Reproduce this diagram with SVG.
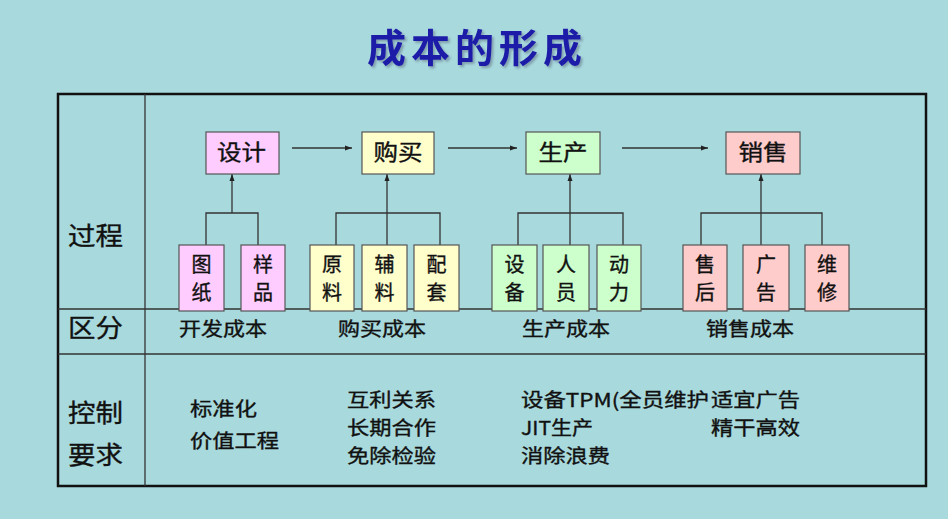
<svg xmlns="http://www.w3.org/2000/svg" width="948" height="519" viewBox="0 0 948 519">
<defs>
<style>
text{font-family:"Noto Sans CJK SC","Liberation Sans",sans-serif;fill:#111;stroke:#111;stroke-width:0.35;}
.title{font-size:39px;font-weight:bold;fill:#1c1ca8;stroke:none;letter-spacing:5px;}
.lbl{font-size:25px;}
.top{font-size:22px;}
.sm{font-size:20px;}
.row{font-size:19px;}
.ctl{font-size:19px;}
.box{stroke:#555;stroke-width:1.2;}
.pink{fill:#ffccff;}
.yel{fill:#ffffcc;}
.grn{fill:#ccffcc;}
.red{fill:#ffcccc;}
.ln{stroke:#333;stroke-width:1.3;fill:none;}
</style>
<filter id="sh" x="-10%" y="-20%" width="120%" height="150%">
<feDropShadow dx="2" dy="2" stdDeviation="1" flood-color="#335" flood-opacity="0.35"/>
</filter>
<marker id="ah" markerWidth="8" markerHeight="8" refX="7" refY="4" orient="auto" markerUnits="userSpaceOnUse">
<path d="M0,1.5 L7,4 L0,6.5 Z" fill="#222"/>
</marker>
</defs>
<rect width="948" height="519" fill="#a8d9dc"/>
<text class="title" x="477" y="62" text-anchor="middle" filter="url(#sh)">成本的形成</text>

<g id="frame">
<rect x="58" y="94" width="868" height="392" fill="none" stroke="#111" stroke-width="2.5"/>
<line x1="145" y1="94" x2="145" y2="486" stroke="#333" stroke-width="1.3"/>
<line x1="58" y1="309" x2="926" y2="309" stroke="#333" stroke-width="1.3"/>
<line x1="58" y1="354" x2="926" y2="354" stroke="#333" stroke-width="1.3"/>
<text class="lbl" x="68" y="245" textLength="55" lengthAdjust="spacingAndGlyphs">过程</text>
<text class="lbl" x="68" y="337" textLength="55" lengthAdjust="spacingAndGlyphs">区分</text>
<text class="lbl" x="68" y="422" textLength="55" lengthAdjust="spacingAndGlyphs">控制</text>
<text class="lbl" x="68" y="464" textLength="55" lengthAdjust="spacingAndGlyphs">要求</text>
</g>

<g id="connectors">
<line class="ln" x1="292" y1="148" x2="352" y2="148" marker-end="url(#ah)"/>
<line class="ln" x1="448" y1="148" x2="517" y2="148" marker-end="url(#ah)"/>
<line class="ln" x1="622" y1="148" x2="708" y2="148" marker-end="url(#ah)"/>
<path class="ln" d="M206,245 V213 H258 V245"/>
<line class="ln" x1="232" y1="213" x2="232" y2="174" marker-end="url(#ah)"/>
<path class="ln" d="M336,245 V213 H440 V245"/>
<line class="ln" x1="387" y1="245" x2="387" y2="174" marker-end="url(#ah)"/>
<path class="ln" d="M518,245 V213 H623 V245"/>
<line class="ln" x1="570" y1="245" x2="570" y2="174" marker-end="url(#ah)"/>
<path class="ln" d="M701,245 V213 H822 V245"/>
<line class="ln" x1="761" y1="245" x2="761" y2="174" marker-end="url(#ah)"/>
</g>

<g id="n-sheji"><rect class="box pink" x="206" y="132" width="73" height="42"/><text class="top" x="217" y="160" textLength="49" lengthAdjust="spacingAndGlyphs">设计</text></g>
<g id="n-goumai"><rect class="box yel" x="362" y="132" width="72" height="42"/><text class="top" x="373.5" y="160" textLength="49" lengthAdjust="spacingAndGlyphs">购买</text></g>
<g id="n-shengchan"><rect class="box grn" x="526" y="132" width="74" height="42"/><text class="top" x="538.5" y="160" textLength="49" lengthAdjust="spacingAndGlyphs">生产</text></g>
<g id="n-xiaoshou"><rect class="box red" x="726" y="132" width="74" height="42"/><text class="top" x="738.5" y="160" textLength="49" lengthAdjust="spacingAndGlyphs">销售</text></g>

<g id="n-tuzhi"><rect class="box pink" x="179" y="245" width="45" height="66"/><text class="sm" x="201.5" y="272" text-anchor="middle">图</text><text class="sm" x="201.5" y="300" text-anchor="middle">纸</text></g>
<g id="n-yangpin"><rect class="box pink" x="241" y="245" width="44" height="66"/><text class="sm" x="263" y="272" text-anchor="middle">样</text><text class="sm" x="263" y="300" text-anchor="middle">品</text></g>
<g id="n-yuanliao"><rect class="box yel" x="310" y="245" width="44" height="66"/><text class="sm" x="332" y="272" text-anchor="middle">原</text><text class="sm" x="332" y="300" text-anchor="middle">料</text></g>
<g id="n-fuliao"><rect class="box yel" x="362" y="245" width="45" height="66"/><text class="sm" x="384.5" y="272" text-anchor="middle">辅</text><text class="sm" x="384.5" y="300" text-anchor="middle">料</text></g>
<g id="n-peitao"><rect class="box yel" x="414" y="245" width="45" height="66"/><text class="sm" x="436.5" y="272" text-anchor="middle">配</text><text class="sm" x="436.5" y="300" text-anchor="middle">套</text></g>
<g id="n-shebei"><rect class="box grn" x="492" y="245" width="45" height="66"/><text class="sm" x="514.5" y="272" text-anchor="middle">设</text><text class="sm" x="514.5" y="300" text-anchor="middle">备</text></g>
<g id="n-renyuan"><rect class="box grn" x="543" y="245" width="46" height="66"/><text class="sm" x="566" y="272" text-anchor="middle">人</text><text class="sm" x="566" y="300" text-anchor="middle">员</text></g>
<g id="n-dongli"><rect class="box grn" x="597" y="245" width="44" height="66"/><text class="sm" x="619" y="272" text-anchor="middle">动</text><text class="sm" x="619" y="300" text-anchor="middle">力</text></g>
<g id="n-shouhou"><rect class="box red" x="683" y="245" width="44" height="66"/><text class="sm" x="705" y="272" text-anchor="middle">售</text><text class="sm" x="705" y="300" text-anchor="middle">后</text></g>
<g id="n-guanggao"><rect class="box red" x="743" y="245" width="46" height="66"/><text class="sm" x="766" y="272" text-anchor="middle">广</text><text class="sm" x="766" y="300" text-anchor="middle">告</text></g>
<g id="n-weixiu"><rect class="box red" x="805" y="245" width="44" height="66"/><text class="sm" x="827" y="272" text-anchor="middle">维</text><text class="sm" x="827" y="300" text-anchor="middle">修</text></g>

<g id="row2">
<text class="row" x="179" y="336" textLength="88" lengthAdjust="spacingAndGlyphs">开发成本</text>
<text class="row" x="338" y="336" textLength="88" lengthAdjust="spacingAndGlyphs">购买成本</text>
<text class="row" x="522" y="336" textLength="88" lengthAdjust="spacingAndGlyphs">生产成本</text>
<text class="row" x="706" y="336" textLength="88" lengthAdjust="spacingAndGlyphs">销售成本</text>
</g>

<g id="row3">
<text class="ctl" x="190" y="416" textLength="67" lengthAdjust="spacingAndGlyphs">标准化</text>
<text class="ctl" x="190" y="448" textLength="89" lengthAdjust="spacingAndGlyphs">价值工程</text>
<text class="ctl" x="347" y="407" textLength="89" lengthAdjust="spacingAndGlyphs">互利关系</text>
<text class="ctl" x="347" y="435" textLength="89" lengthAdjust="spacingAndGlyphs">长期合作</text>
<text class="ctl" x="347" y="463" textLength="89" lengthAdjust="spacingAndGlyphs">免除检验</text>
<text class="ctl" x="521" y="407" textLength="188" lengthAdjust="spacingAndGlyphs">设备TPM(全员维护</text>
<text class="ctl" x="521" y="435" textLength="72" lengthAdjust="spacingAndGlyphs">JIT生产</text>
<text class="ctl" x="521" y="463" textLength="89" lengthAdjust="spacingAndGlyphs">消除浪费</text>
<text class="ctl" x="711" y="407" textLength="89" lengthAdjust="spacingAndGlyphs">适宜广告</text>
<text class="ctl" x="711" y="435" textLength="89" lengthAdjust="spacingAndGlyphs">精干高效</text>
</g>
</svg>
